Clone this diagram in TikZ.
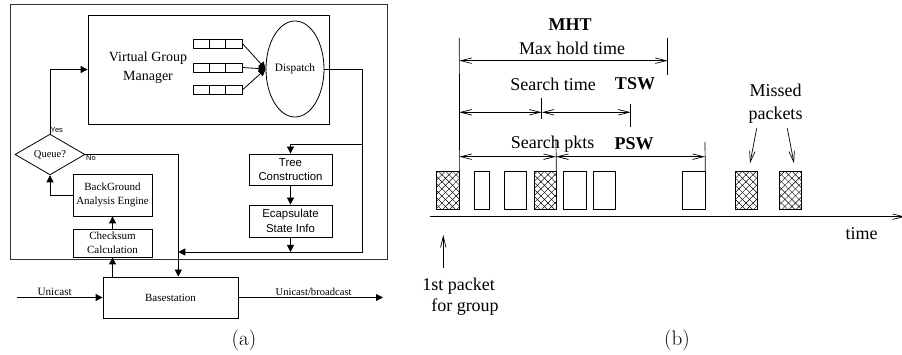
\documentclass[tikz,border=0pt]{standalone}
\usepackage{fontspec}
\newfontfamily\tnr{Liberation Serif}
\newfontfamily\hlv{Liberation Sans}
\usetikzlibrary{arrows.meta,shapes.geometric,patterns.meta,positioning}
\tikzset{
  blk/.style={draw,line width=0.8pt,inner sep=0pt,align=center,font=\tnr\fontsize{11}{14}\selectfont},
  sblk/.style={blk,font=\hlv\fontsize{11.4}{14.5}\selectfont},
  cell/.style={draw,line width=0.7pt,minimum width=16.33pt,minimum height=9pt,inner sep=0pt},
  fa/.style={-{Triangle[length=7pt,width=7pt]},line width=0.8pt},
  yn/.style={font=\hlv\fontsize{7.5}{9}\selectfont,inner sep=0.5pt},
  ba/.style={{Straight Barb[length=11pt,width=5.5pt]}-{Straight Barb[length=11pt,width=5.5pt]},line width=0.7pt},
  sa/.style={-{Straight Barb[length=11pt,width=5.5pt]},line width=0.7pt},
  lbl/.style={font=\tnr\fontsize{18}{22.7}\selectfont,inner sep=0pt,align=center},
  blbl/.style={font=\tnr\bfseries\fontsize{18}{22}\selectfont,inner sep=0pt},
  captxt/.style={font=\fontsize{21}{24}\selectfont,inner sep=0pt},
  pkt/.style={draw,line width=0.7pt,minimum height=37.6pt,inner sep=0pt},
  hpkt/.style={pkt,postaction={pattern={Lines[angle=45,distance=5pt,line width=0.45pt]}},
    postaction={pattern={Lines[angle=-45,distance=5pt,line width=0.45pt]}}},
}
\begin{document}
\begin{tikzpicture}[x=1pt,y=-1pt]
\useasboundingbox (0,0) rectangle (902,355);
% (a)
\draw[line width=1pt,black!80] (10,5) rectangle (387,260);
\node[blk,minimum width=241pt,minimum height=109pt] (vgm) at (208.5,69.5) {};
\node[font=\tnr\fontsize{14}{19}\selectfont,align=center] (vgmt) at (148,67.5) {Virtual Group\\Manager};
\node[draw,ellipse,line width=0.8pt,minimum width=58pt,minimum height=96pt,inner sep=0pt,
  font=\tnr\fontsize{11.3}{13}\selectfont] (disp) at (295,69) {Dispatch};
\foreach \i/\y in {1/43.5,2/67.5,3/90}{
  \foreach \j in {0,1,2}
    \node[cell] (q\i\j) at (201.2+16.33*\j,\y) {};
  \draw[fa] (q\i2.east) -- (disp.west);
}
\node[sblk,minimum width=83pt,minimum height=31pt] (tree) at (290.5,169.5) {Tree\\Construction};
\node[sblk,minimum width=83pt,minimum height=32pt] (enc) at (290.5,221) {Ecapsulate\\State Info};
\node[draw,diamond,line width=0.8pt,minimum width=70pt,minimum height=39pt,inner sep=0pt,
  font=\tnr\fontsize{10.5}{12}\selectfont] (qd) at (50,154.5) {Queue?};
\node[blk,minimum width=79pt,minimum height=42pt] (bg) at (112.5,195) {BackGround\\Analysis Engine};
\node[blk,minimum width=79pt,minimum height=28pt] (cks) at (112.5,243) {Checksum\\Calculation};
\node[blk,minimum width=135pt,minimum height=41pt] (base) at (170.5,297.5) {Basestation};
\coordinate (c1) at (362.7,144);
\coordinate (c2) at (362.7,252);
\coordinate (j) at (178.3,252);
\coordinate (uin) at (17,297.5);
\coordinate (uout) at (383,297.5);
\draw[fa] (disp.east) -| (c2) -- (j);
\draw[fa] (c1) -| (tree.north);
\draw[fa] (tree) -- (enc);
\draw[fa] (enc) -- (enc |- c2);
\draw[fa] (qd.north) |- (vgm.west);
\node[yn,anchor=south west] (yes) at (qd.north) {Yes};
\draw[fa] (qd.east) -| (base.north -| j);
\node[yn,anchor=north west] (no) at (qd.east) {No};
\draw[fa] (bg.west) -| (qd.south);
\draw[fa] (cks) -- (bg);
\draw[fa] (base.north -| cks.south) -- (cks.south);
\draw[fa] (uin) -- (base.west) node[pos=0.44,above,inner sep=1.5pt,font=\tnr\fontsize{11.2}{13}\selectfont] {Unicast};
\draw[fa] (base.east) -- (uout) node[pos=0.52,above,inner sep=1.5pt,font=\tnr\fontsize{10.6}{13}\selectfont] {Unicast/broadcast};
\node[captxt] (capa) at (244,340) {(a)};
% (b)
\foreach \n/\x/\w/\s in {1/448/22.6/hpkt,2/481.8/15/pkt,3/515.3/22.7/pkt,4/545/22/hpkt,5/575/23.4/pkt,
  6/604.5/22.4/pkt,7/693.8/22.3/pkt,8/746.2/22.3/hpkt,9/790.5/22.4/hpkt}
  \node[\s,minimum width=\w pt] (p\n) at (\x,190.5) {};
\coordinate (t0) at (430,216.7);
\coordinate (t1) at (905,216.7);
\draw[sa] (t0) -- (t1);
\draw[line width=0.7pt] (p1.north east) -- (459.3,38);
\draw[line width=0.7pt] (667.7,38) -- (667.7,75);
\draw[ba] (459.3,60.7) -- (667.7,60.7);
\draw[line width=0.7pt] (541.7,97.7) -- (541.7,119);
\draw[line width=0.7pt] (630.7,104) -- (630.7,126.7);
\draw[ba] (459.3,112.3) -- (541.7,112.3);
\draw[ba] (541.7,112.3) -- (630.7,112.3);
\draw[line width=0.7pt] (p4.north east) -- (556,140);
\draw[line width=0.7pt] (p7.north east) -- (705,142);
\draw[ba] (459.3,156.7) -- (556,156.7);
\draw[ba] (556,156.7) -- (705,156.7);
\node[blbl] (mht) at (570,25) {MHT};
\node[lbl] (mhtt) at (572,48) {Max hold time};
\node[lbl] (st) at (553,84) {Search time};
\node[blbl] (tsw) at (635,84) {TSW};
\node[lbl] (sp) at (552.7,144.3) {Search pkts};
\node[blbl] (psw) at (634,144) {PSW};
\node[lbl] (miss) at (775.5,103.7) {Missed\\packets};
\coordinate (m1) at (750,163.3);
\coordinate (m2) at (794,163.3);
\draw[sa] (756.7,128.3) -- (m1);
\draw[sa] (787.3,128.3) -- (m2);
\node[lbl] (time) at (861.7,233.3) {time};
\coordinate (fa0) at (443.3,268.3);
\draw[sa] (fa0) -- (443.3,235);
\node[lbl] (fp1) at (458.5,286) {1st packet};
\node[lbl] (fp2) at (465,306.7) {for group};
\node[captxt] (capb) at (677,340) {(b)};
\end{tikzpicture}
\end{document}
